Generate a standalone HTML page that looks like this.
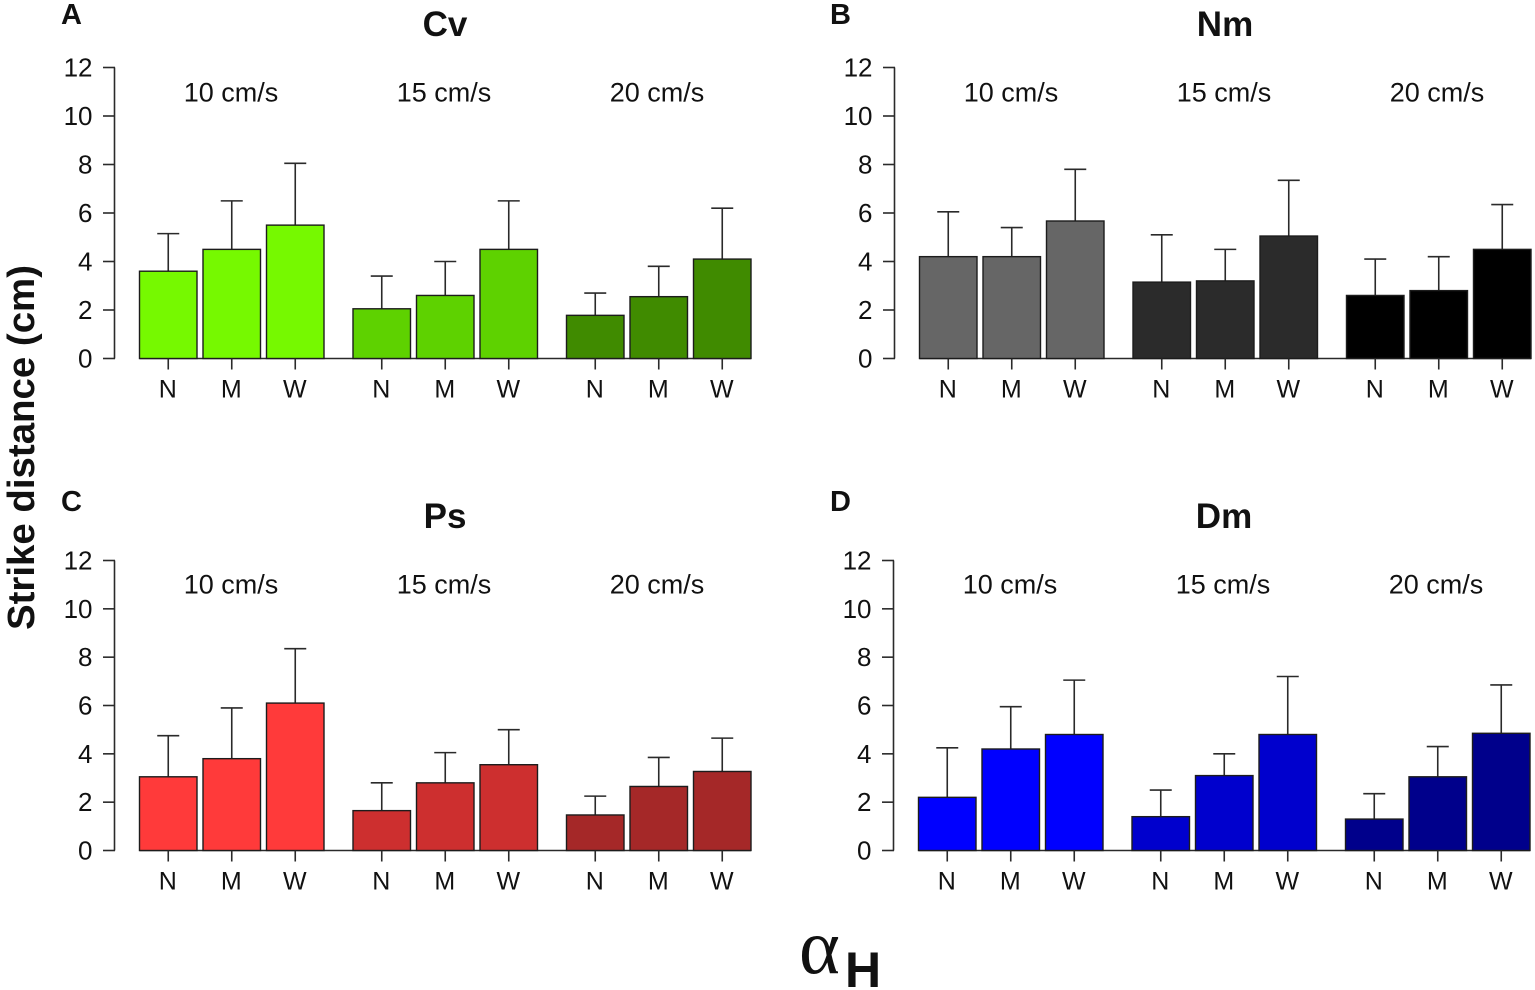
<!DOCTYPE html>
<html lang="en">
<head>
<meta charset="utf-8">
<title>Strike distance by species, flow speed and alpha H</title>
<style>
html,body{margin:0;padding:0;background:#fff;width:1535px;height:990px;overflow:hidden}
svg{display:block}
text{font-family:"Liberation Sans",sans-serif;fill:#111}
</style>
</head>
<body>
<svg id="fig" width="1535" height="990" viewBox="0 0 1535 990" xmlns="http://www.w3.org/2000/svg">
<text transform="translate(34,630) rotate(-90)" font-size="38" font-weight="700" textLength="365" lengthAdjust="spacingAndGlyphs">Strike distance (cm)</text>
<text x="799" y="973" font-size="78" style="font-family:'Liberation Serif','DejaVu Serif',serif">α</text>
<text x="845" y="987" font-size="50" font-weight="700">H</text>
</svg>
<script>
const yTicks = [0, 2, 4, 6, 8, 10, 12];
const speeds = ['10 cm/s', '15 cm/s', '20 cm/s'];
const alphaLabels = ['N', 'M', 'W'];
const panelLetters = ['A', 'B', 'C', 'D'];
const panelTitles = ['Cv', 'Nm', 'Ps', 'Dm'];
const cvMeans = [3.6, 4.5, 5.5, 2.05, 2.6, 4.5, 1.78, 2.55, 4.1];
const cvTops = [5.15, 6.5, 8.05, 3.4, 4.0, 6.5, 2.7, 3.8, 6.2];
const nmMeans = [4.2, 4.2, 5.67, 3.15, 3.2, 5.05, 2.6, 2.8, 4.5];
const nmTops = [6.05, 5.4, 7.8, 5.1, 4.5, 7.35, 4.1, 4.2, 6.35];
const psMeans = [3.05, 3.8, 6.1, 1.65, 2.8, 3.55, 1.47, 2.65, 3.27];
const psTops = [4.75, 5.9, 8.35, 2.8, 4.05, 5.0, 2.25, 3.85, 4.65];
const dmMeans = [2.2, 4.2, 4.8, 1.4, 3.1, 4.8, 1.3, 3.05, 4.85];
const dmTops = [4.25, 5.95, 7.05, 2.5, 4.0, 7.2, 2.35, 4.3, 6.85];
const cvColors = ['#76f900', '#5ed200', '#408b00'];
const nmColors = ['#666666', '#2b2b2b', '#000000'];
const psColors = ['#ff3a3a', '#cd2f2f', '#a52828'];
const dmColors = ['#0000ff', '#0000cd', '#00008b'];

const allMeans = [cvMeans, nmMeans, psMeans, dmMeans];
const allTops = [cvTops, nmTops, psTops, dmTops];
const allColors = [cvColors, nmColors, psColors, dmColors];

const NS = 'http://www.w3.org/2000/svg';
const root = document.getElementById('fig');
const INK = '#2a2a2a';

function make(parent, tag, attrs, content) {
  const el = document.createElementNS(NS, tag);
  for (const k in attrs) el.setAttribute(k, attrs[k]);
  if (content !== undefined) el.textContent = content;
  parent.appendChild(el);
  return el;
}

function yScale(panel, v) {
  const base = panel < 2 ? 358.5 : 850.5;
  const span = panel < 2 ? 291 : 290;
  return base - v * (span / 12);
}
function xOffset(panel) {
  return [0, 780, 0, 779][panel];
}
function barLeft(panel, i) {
  const group = Math.floor(i / 3);
  return xOffset(panel) + 139.5 + group * 213.5 + (i % 3) * 63.5;
}
const BAR_W = 57.5;

function drawPanel(p) {
  const ox = xOffset(p);
  const baseY = yScale(p, 0);
  const g = make(root, 'g', {});
  
  

  const letter = make(g, 'text', {x: p % 2 ? 830 : 61, y: p < 2 ? 24 : 511, 'font-size': 29, 'font-weight': 700}, panelLetters[p]);
  
  

  const title = make(g, 'text', {x: ox + 445, y: p < 2 ? 36 : 528, 'font-size': 35, 'font-weight': 700, 'text-anchor': 'middle'}, panelTitles[p]);
  
  

  const axisLine = make(g, 'line', {x1: ox + 114.5, x2: ox + 114.5, y1: yScale(p, 12), y2: baseY, stroke: INK, 'stroke-width': 1.6});
  
  

  yTicks.forEach(function (t) {
    const tick = make(g, 'line', {x1: ox + 103, x2: ox + 115, y1: yScale(p, t), y2: yScale(p, t), stroke: INK, 'stroke-width': 1.6});
    
    
    const label = make(g, 'text', {x: ox + 92.5, y: yScale(p, t) + 9, 'font-size': 26, 'text-anchor': 'end'}, String(t));
    
    
  });

  const xLine = make(g, 'line', {x1: barLeft(p, 0), x2: barLeft(p, 8) + BAR_W, y1: baseY, y2: baseY, stroke: INK, 'stroke-width': 1.6});
  
  

  speeds.forEach(function (s, k) {
    const sp = make(g, 'text', {x: ox + 231 + k * 213, y: p < 2 ? 101.5 : 593.5, 'font-size': 27, 'text-anchor': 'middle'}, s);
    
    
  });

  allMeans[p].forEach(function (m, i) {
    const cx = barLeft(p, i) + BAR_W / 2;
    const color = allColors[p][Math.floor(i / 3)];

    const stem = make(g, 'line', {x1: cx, x2: cx, y1: yScale(p, allTops[p][i]), y2: yScale(p, m), stroke: INK, 'stroke-width': 1.6});
    
    
    const cap = make(g, 'line', {x1: cx - 11, x2: cx + 11, y1: yScale(p, allTops[p][i]), y2: yScale(p, allTops[p][i]), stroke: INK, 'stroke-width': 1.6});
    
    

    const bar = make(g, 'rect', {x: barLeft(p, i), y: yScale(p, m), width: BAR_W, height: baseY - yScale(p, m), fill: color, stroke: '#1c1c1c', 'stroke-width': 1.4});
    
    

    const tick = make(g, 'line', {x1: cx, x2: cx, y1: baseY, y2: baseY + 11, stroke: INK, 'stroke-width': 1.6});
    
    
    const label = make(g, 'text', {x: cx - 0.5, y: baseY + 39, 'font-size': 25, 'text-anchor': 'middle'}, alphaLabels[i % 3]);
    
    
  });
}

[0, 1, 2, 3].forEach(drawPanel);
</script>
</body>
</html>
